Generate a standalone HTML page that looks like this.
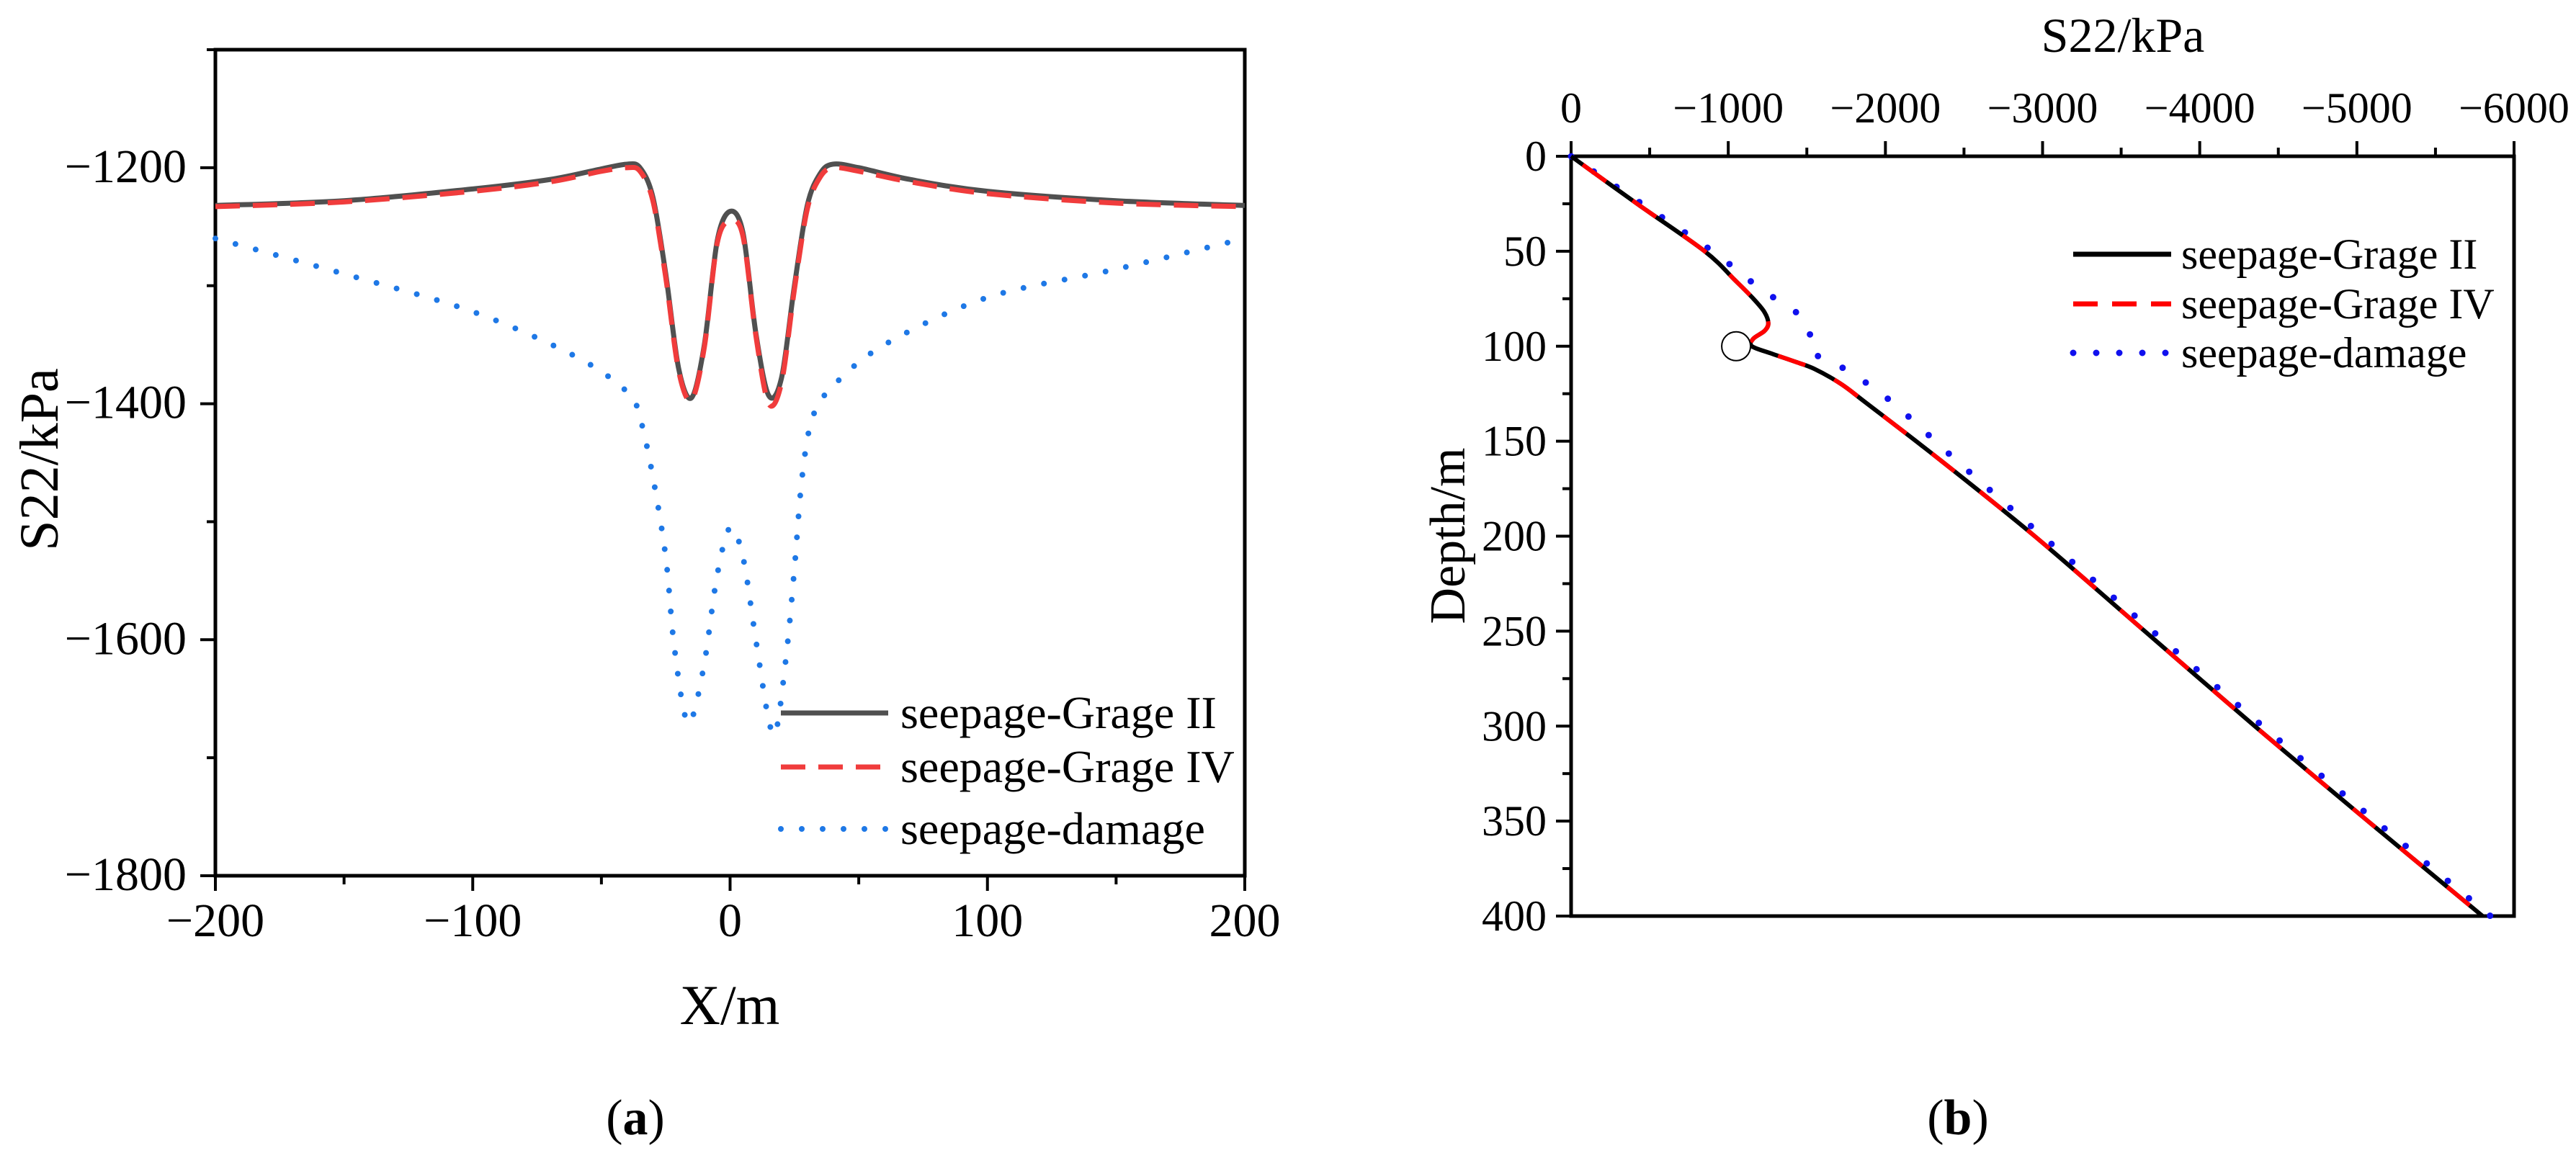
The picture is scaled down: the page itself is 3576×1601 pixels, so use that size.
<!DOCTYPE html>
<html><head><meta charset="utf-8">
<style>
html,body{margin:0;padding:0;background:#fff;}
svg{display:block;font-family:"Liberation Serif","DejaVu Serif",serif;}
</style></head>
<body>
<svg id="fig" width="3576" height="1601" viewBox="0 0 3576 1601" xmlns="http://www.w3.org/2000/svg">
  <g id="pa"></g>
  <g id="pb"></g>
</svg>
<script>
// ---- Panel (a) data ----
const aX2 = [-200,-150,-100,-70,-50,-40,-35,-30,-25,-20,-15,-10,-5,0,5,10,15,20,25,30,35,40,50,70,100,150,200];
const aGradeII = [-1232,-1228,-1218,-1210,-1201,-1197,-1200,-1225,-1290,-1370,-1395,-1350,-1262,-1237,-1255,-1340,-1393,-1378,-1300,-1232,-1205,-1197,-1200,-1210,-1220,-1228,-1232];
const aGradeIV = [-1233,-1229,-1220,-1212,-1203,-1200,-1203,-1228,-1293,-1372,-1397,-1352,-1264,-1245,-1258,-1342,-1400,-1382,-1303,-1235,-1208,-1200,-1203,-1212,-1222,-1230,-1233];
const aXd = [-200,-150,-100,-60,-40,-35,-30,-25,-22,-18,-15,-10,-5,0,5,10,15,18,22,25,28,32,40,60,100,150,200];
const aDamage = [-1260,-1290,-1322,-1360,-1390,-1412,-1462,-1530,-1600,-1660,-1668,-1620,-1545,-1505,-1530,-1600,-1668,-1676,-1610,-1540,-1462,-1412,-1385,-1350,-1310,-1286,-1260];
const aXTicks = [-200,-100,0,100,200];
const aYTicks = [-1800,-1600,-1400,-1200];
const aLegend = ["seepage-Grage II","seepage-Grage IV","seepage-damage"];
// ---- Panel (b) data ----
const bDepthII = [0,25,50,65,75,82,88,92,96,100,104,108,112,120,130,160,200,250,300,350,400];
const bS22II = [0,-420,-850,-1040,-1160,-1230,-1255,-1230,-1160,-1150,-1280,-1420,-1550,-1720,-1880,-2350,-2950,-3650,-4350,-5070,-5800];
const bDepthD = [0,25,50,65,75,82,88,93,98,103,108,115,130,160,200,250,300,350,400];
const bDamage = [0,-450,-900,-1130,-1300,-1430,-1500,-1520,-1510,-1520,-1650,-1800,-2050,-2450,-3000,-3700,-4400,-5120,-5850];
const bXTicks = [0,-1000,-2000,-3000,-4000,-5000,-6000];
const bYTicks = [0,50,100,150,200,250,300,350,400];
const bMarker = [100,-1050];

const NS="http://www.w3.org/2000/svg";
function mk(parent,tag,attrs){const e=document.createElementNS(NS,tag);for(const k in attrs)e.setAttribute(k,attrs[k]);parent.appendChild(e);return e;}
function smooth(pts){let d="M"+pts[0][0]+","+pts[0][1];for(let i=0;i<pts.length-1;i++){const p0=pts[Math.max(0,i-1)],p1=pts[i],p2=pts[i+1],p3=pts[Math.min(pts.length-1,i+2)];const t=0.16;d+=" C"+(p1[0]+(p2[0]-p0[0])*t)+","+(p1[1]+(p2[1]-p0[1])*t)+" "+(p2[0]-(p3[0]-p1[0])*t)+","+(p2[1]-(p3[1]-p1[1])*t)+" "+p2[0]+","+p2[1];}return d;}

// Panel a
const A={l:299,r:1728,t:69,b:1216};
const ax=v=>A.l+(v+200)/400*(A.r-A.l);
const ay=v=>A.b-(v+1800)/700*(A.b-A.t);
const pa=document.getElementById('pa');
let e;
e=mk(pa,'rect',{x:A.l,y:A.t,width:A.r-A.l,height:A.b-A.t,fill:'none',stroke:'#000','stroke-width':5});


for(let v=-200;v<=200;v+=50){const maj=v%100===0;e=mk(pa,'line',{x1:ax(v),x2:ax(v),y1:A.b,y2:A.b+(maj?21:12),stroke:'#000','stroke-width':4});

}
for(let v=-1800;v<=-1100;v+=100){const maj=v%200===0;e=mk(pa,'line',{x1:A.l,x2:A.l-(maj?21:12),y1:ay(v),y2:ay(v),stroke:'#000','stroke-width':4});

}
aXTicks.forEach(v=>{e=mk(pa,'text',{x:ax(v),y:1300,'font-size':66,'text-anchor':'middle'});e.textContent=String(v).replace('-','\u2212');

});
aYTicks.forEach(v=>{e=mk(pa,'text',{x:259,y:ay(v)+20,'font-size':66,'text-anchor':'end'});e.textContent=String(v).replace('-','\u2212');

});
e=mk(pa,'text',{x:1013,y:1422,'font-size':78,'text-anchor':'middle'});e.textContent='X/m';


e=mk(pa,'text',{x:0,y:0,'font-size':76,'text-anchor':'middle',transform:'translate(80,638) rotate(-90)'});e.textContent='S22/kPa';


e=mk(pa,'path',{d:smooth(aXd.map((x,i)=>[ax(x),ay(aDamage[i])])),fill:'none',stroke:'#1e78e6','stroke-width':8,'stroke-dasharray':'0 29','stroke-linecap':'round'});


e=mk(pa,'path',{d:smooth(aX2.map((x,i)=>[ax(x),ay(aGradeII[i])])),fill:'none',stroke:'#505050','stroke-width':7});


e=mk(pa,'path',{d:smooth(aX2.map((x,i)=>[ax(x),ay(aGradeIV[i])])),fill:'none',stroke:'#f03c3c','stroke-width':7,'stroke-dasharray':'34 18'});


const aLegY=[990,1065,1151];
const aSty=[{stroke:'#505050','stroke-width':7},{stroke:'#f03c3c','stroke-width':7,'stroke-dasharray':'34 18'},{stroke:'#1e78e6','stroke-width':8,'stroke-dasharray':'0 29','stroke-linecap':'round'}];
aLegend.forEach((t,i)=>{const g=mk(pa,'g',{});


mk(g,'line',Object.assign({x1:1084,x2:1233,y1:aLegY[i],y2:aLegY[i]},aSty[i]));
const tx=mk(g,'text',{x:1250,y:aLegY[i]+21,'font-size':64});tx.textContent=t;});
e=mk(pa,'text',{x:882,y:1575,'font-size':70,'text-anchor':'middle'});
e.innerHTML='(<tspan font-weight="bold">a</tspan>)';



// Panel b
const B={l:2181,r:3490,t:217,b:1272};
const bx=v=>B.l+(-v)/6000*(B.r-B.l);
const by=v=>B.t+v/400*(B.b-B.t);
const pb=document.getElementById('pb');
e=mk(pb,'rect',{x:B.l,y:B.t,width:B.r-B.l,height:B.b-B.t,fill:'none',stroke:'#000','stroke-width':5});


for(let v=0;v>=-6000;v-=500){const maj=v%1000===0;e=mk(pb,'line',{x1:bx(v),x2:bx(v),y1:B.t,y2:B.t-(maj?21:12),stroke:'#000','stroke-width':4});

}
for(let v=0;v<=400;v+=25){const maj=v%50===0;e=mk(pb,'line',{x1:B.l,x2:B.l-(maj?21:12),y1:by(v),y2:by(v),stroke:'#000','stroke-width':4});

}
bXTicks.forEach(v=>{e=mk(pb,'text',{x:bx(v),y:170,'font-size':60,'text-anchor':'middle'});e.textContent=String(v).replace('-','\u2212');

});
bYTicks.forEach(v=>{e=mk(pb,'text',{x:2147,y:by(v)+20,'font-size':60,'text-anchor':'end'});e.textContent=String(v);

});
e=mk(pb,'text',{x:2947,y:72,'font-size':68,'text-anchor':'middle'});e.textContent='S22/kPa';


e=mk(pb,'text',{x:0,y:0,'font-size':70,'text-anchor':'middle',transform:'translate(2033,744) rotate(-90)'});e.textContent='Depth/m';


e=mk(pb,'path',{d:smooth(bDepthD.map((d,i)=>[bx(bDamage[i]),by(d)])),fill:'none',stroke:'#1010ee','stroke-width':9,'stroke-dasharray':'0 38','stroke-linecap':'round'});


e=mk(pb,'path',{d:smooth(bDepthII.map((d,i)=>[bx(bS22II[i]),by(d)])),fill:'none',stroke:'#000','stroke-width':6});


e=mk(pb,'path',{d:smooth(bDepthII.map((d,i)=>[bx(bS22II[i]),by(d)])),fill:'none',stroke:'#ff0000','stroke-width':6,'stroke-dasharray':'40 45','stroke-dashoffset':'-20'});


e=mk(pb,'circle',{cx:bx(bMarker[1]),cy:by(bMarker[0]),r:20,fill:'#fff',stroke:'#000','stroke-width':2});


const bLegY=[353,422,490];
const bSty=[{stroke:'#000','stroke-width':7},{stroke:'#ff0000','stroke-width':7,'stroke-dasharray':'34 20'},{stroke:'#1010ee','stroke-width':9,'stroke-dasharray':'0 32','stroke-linecap':'round'}];
aLegend.forEach((t,i)=>{const g=mk(pb,'g',{});


mk(g,'line',Object.assign({x1:2878,x2:3014,y1:bLegY[i],y2:bLegY[i]},bSty[i]));
const tx=mk(g,'text',{x:3028,y:bLegY[i]+20,'font-size':60});tx.textContent=t;});
e=mk(pb,'text',{x:2718,y:1575,'font-size':70,'text-anchor':'middle'});
e.innerHTML='(<tspan font-weight="bold">b</tspan>)';


</script>
</body></html>
